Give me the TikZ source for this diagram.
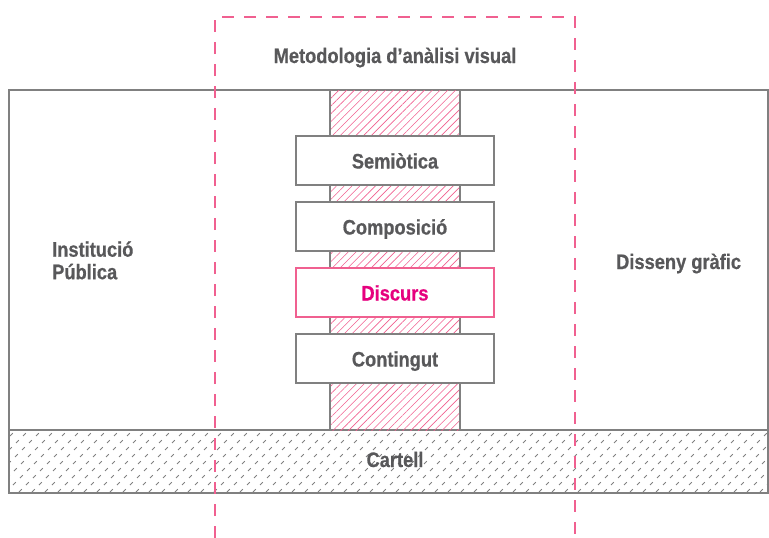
\documentclass[tikz,border=0pt]{standalone}
\usepackage{fontspec}
\setmainfont{Liberation Sans}[FakeStretch=0.87, BoldFont={Liberation Sans Bold}, BoldFeatures={FakeBold=0.6}]
\usetikzlibrary{patterns.meta}
\definecolor{lgray}{RGB}{128,128,128}
\definecolor{tgray}{RGB}{88,88,90}
\definecolor{pinkl}{RGB}{240,96,144}
\definecolor{pinkt}{RGB}{230,0,126}
\tikzset{
  lab/.style={font=\bfseries\fontsize{21}{22.5}\selectfont, text=tgray, inner sep=0pt, anchor=base},
  layer/.style={draw=lgray, line width=1.4pt, fill=white, minimum width=198pt, minimum height=49pt, inner sep=0pt},
  pinkdash/.style={draw=pinkl, line width=1.3pt, dash pattern=on 12pt off 10pt},
}
\begin{document}
\begin{tikzpicture}[x=1pt,y=-1pt]
\useasboundingbox (0,0) rectangle (769,538);
% outer frame
\draw[lgray, line width=1.4pt] (9,90) rectangle (768,430);
% Cartell band hatching
\begin{scope}
\clip (9,431) rectangle (768,492);
\foreach \i in {0,13,...,858}{
  \draw[lgray, line width=0.9pt, dash pattern=on 4pt off 5.9pt] (\i-80,513) -- (\i,433);
}
\end{scope}
\draw[lgray, line width=1.4pt] (9,430) rectangle (768,493);
% central hatched column
\path[pattern={Lines[angle=45,distance=5.5pt,line width=0.6pt]}, pattern color=pinkl] (330,90) rectangle (460,430);
\draw[lgray, line width=1.4pt] (330,90) -- (330,430) (460,90) -- (460,430);
% pink dashed method frame
\coordinate (pl) at (215,538);
\coordinate (pr) at (575,538);
\draw[pinkdash] (pl) -- (215,17) -- (575,17) -- (pr);
% layers
\node[layer] (sem) at (395,160.5) {};
\node[layer] (com) at (395,226.5) {};
\node[layer, draw=pinkl] (dis) at (395,292.5) {};
\node[layer] (con) at (395,358.5) {};
\node[lab] at ([yshift=-8pt]sem.center) {Semiòtica};
\node[lab] at ([yshift=-8pt]com.center) {Composició};
\node[lab, text=pinkt] at ([yshift=-8pt]dis.center) {Discurs};
\node[lab] at ([yshift=-8pt]con.center) {Contingut};
% labels
\node[lab] (met) at (395,63) {Metodologia d’anàlisi visual};
\node[lab, anchor=base west] (ins) at (52,256.7) {Institució};
\node[lab, anchor=base west] (pub) at (52,279.2) {Pública};
\node[lab, anchor=base west] (dg) at (616,269) {Disseny gràfic};
\node[lab] (car) at (395,467) {Cartell};
\end{tikzpicture}
\end{document}
